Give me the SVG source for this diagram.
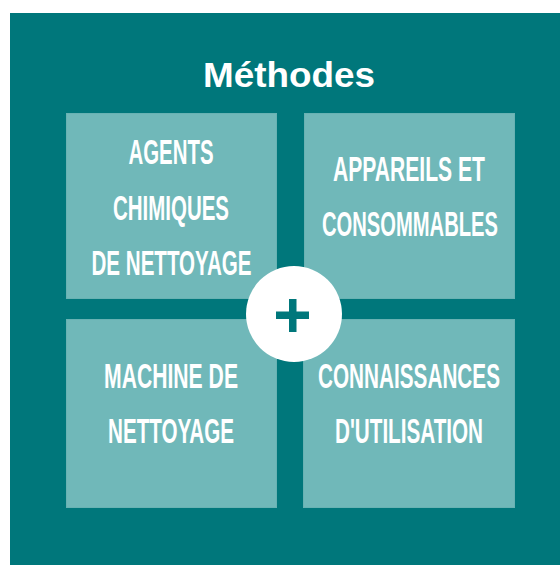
<svg xmlns="http://www.w3.org/2000/svg" width="560" height="565" viewBox="0 0 560 565">
<style>
.bg{fill:#00777B}
.box{fill:#70B8B9;stroke:#68B2B3;stroke-width:1}
.lbl{font-family:"Liberation Sans",Arial,sans-serif;font-weight:bold;font-size:35px;fill:#FFFFFF;text-anchor:middle}
.title{font-family:"Liberation Sans",Arial,sans-serif;font-weight:bold;font-size:35px;fill:#FFFFFF;text-anchor:middle}
</style>
<rect width="560" height="565" fill="#FFFFFF"/>
<rect class="bg" x="10" y="13" width="550" height="552"/>
<text class="title" x="289" y="87" textLength="172" lengthAdjust="spacingAndGlyphs">Méthodes</text>
<g id="agents">
<rect class="box" x="66.5" y="113.5" width="210" height="185"/>
<text class="lbl" transform="translate(171,163.5) scale(0.58,1)" textLength="146.6" lengthAdjust="spacingAndGlyphs">AGENTS</text>
<text class="lbl" transform="translate(171,219.5) scale(0.58,1)" textLength="200" lengthAdjust="spacingAndGlyphs">CHIMIQUES</text>
<text class="lbl" transform="translate(171.5,275) scale(0.58,1)" textLength="275.9" lengthAdjust="spacingAndGlyphs">DE NETTOYAGE</text>
</g>
<g id="appareils">
<rect class="box" x="304.5" y="113.5" width="210" height="185"/>
<text class="lbl" transform="translate(409,181) scale(0.58,1)" textLength="262" lengthAdjust="spacingAndGlyphs">APPAREILS ET</text>
<text class="lbl" transform="translate(410,236) scale(0.58,1)" textLength="303.4" lengthAdjust="spacingAndGlyphs">CONSOMMABLES</text>
</g>
<g id="machine">
<rect class="box" x="66.5" y="319.5" width="210" height="188"/>
<text class="lbl" transform="translate(171,388) scale(0.58,1)" textLength="231" lengthAdjust="spacingAndGlyphs">MACHINE DE</text>
<text class="lbl" transform="translate(171,443) scale(0.58,1)" textLength="217.2" lengthAdjust="spacingAndGlyphs">NETTOYAGE</text>
</g>
<g id="connaissances">
<rect class="box" x="303.5" y="319.5" width="211" height="188"/>
<text class="lbl" transform="translate(409,388) scale(0.58,1)" textLength="313.8" lengthAdjust="spacingAndGlyphs">CONNAISSANCES</text>
<text class="lbl" transform="translate(409,443) scale(0.58,1)" textLength="255.2" lengthAdjust="spacingAndGlyphs">D'UTILISATION</text>
</g>
<g id="plus">
<circle cx="294" cy="314" r="48" fill="#FFFFFF"/>
<rect x="276" y="311.5" width="33" height="7.5" fill="#00777B"/>
<rect x="289" y="299" width="7.5" height="33" fill="#00777B"/>
</g>
<g id="connectors"></g>
</svg>
